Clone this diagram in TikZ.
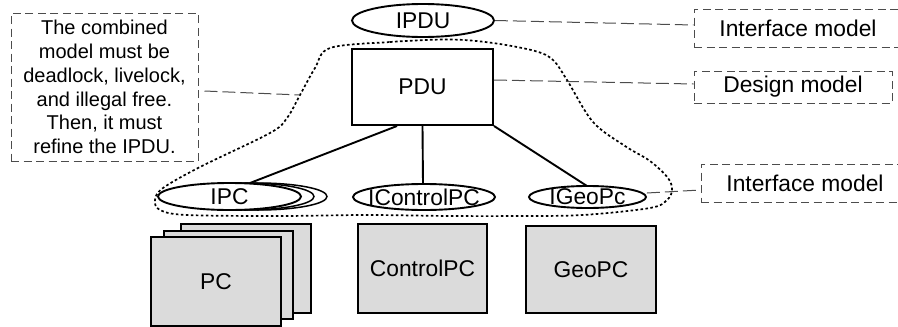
\documentclass[tikz,border=0pt]{standalone}
\usepackage{fontspec}
\setmainfont{Liberation Sans}
\usetikzlibrary{shapes.geometric}
\definecolor{boxgray}{gray}{0.86}
\definecolor{dashgray}{gray}{0.3}
\tikzset{
  modelfont/.style={font=\fontsize{22.8}{24}\selectfont},
  iface/.style={draw=black,line width=1.9pt,ellipse,inner sep=0pt,fill=white,label={[modelfont,inner sep=0pt]center:#1}},
  ifaceback/.style={draw=black,line width=1.5pt,ellipse,inner sep=0pt,fill=white},
  design/.style={draw=black,line width=2pt,fill=white,inner sep=0pt,modelfont},
  comp/.style={draw=black,line width=2pt,fill=boxgray,inner sep=0pt,modelfont},
  note/.style={draw=dashgray,dash pattern=on 8pt off 4.5pt,line width=1pt,inner sep=0pt,modelfont},
  bignote/.style={note,align=center,font=\fontsize{20}{23.7}\selectfont},
  link/.style={draw=black,line width=1.9pt},
  lead/.style={draw=dashgray,dash pattern=on 13pt off 5pt,line width=1pt},
  blob/.style={draw=black,line width=1.7pt,dash pattern=on 2.6pt off 2.4pt}
}
\begin{document}
\begin{tikzpicture}[x=1pt,y=-1pt]
\useasboundingbox (0,0) rectangle (898,327);
% notes
\node[bignote,minimum width=187pt,minimum height=148pt] (rule) at (104.5,87) {The combined\\model must be\\deadlock, livelock,\\and illegal free.\\Then, it must\\refine the IPDU.};
\node[note,minimum width=208pt,minimum height=38pt] (ni) at (798,28) {Interface model};
\node[note,minimum width=198pt,minimum height=32pt] (nd) at (793,87) {Design model};
\node[note,minimum width=208pt,minimum height=38pt] (ng) at (805,183) {Interface model};
% gray components
\node[comp,minimum width=130pt,minimum height=89pt] (pc3) at (246,268.5) {};
\node[comp,minimum width=129pt,minimum height=88pt] (pc2) at (228.5,275) {};
\node[comp,minimum width=130pt,minimum height=89pt] (pc) at (216,281.5) {PC};
\node[comp,minimum width=129pt,minimum height=89pt] (cpc) at (422.5,268.5) {ControlPC};
\node[comp,minimum width=130pt,minimum height=87pt] (gpc) at (591,269.5) {GeoPC};
% design box and interfaces
\node[design,minimum width=141pt,minimum height=76pt] (pdu) at (422.5,87) {PDU};
\node[iface=IPDU,minimum width=142pt,minimum height=33pt] (ipdu) at (423,20.5) {};
\node[ifaceback,minimum width=138pt,minimum height=27pt] (ipc3) at (258,196.5) {};
\node[ifaceback,minimum width=138pt,minimum height=27pt] (ipc2) at (245,196.5) {};
\coordinate (ipctop) at (250,183);
\coordinate (cpctop) at (423,184);
\coordinate (gpctop) at (587,186);
\draw[link] ([xshift=-25.5pt]pdu.south) -- (ipctop);
\draw[link] (pdu.south) -- (cpctop);
\draw[link] (pdu.south east) -- (gpctop);
\node[iface=IPC,minimum width=143pt,minimum height=27pt] (ipc) at (229.5,196.5) {};
\node[iface=IControlPC,minimum width=142pt,minimum height=26pt] (icpc) at (424,197) {};
\node[iface=IGeoPc,minimum width=117pt,minimum height=22pt] (igpc) at (587.5,197) {};
% dotted grouping outline
\draw[blob] plot[smooth cycle,tension=0.55] coordinates {
 (330,48) (390,42) (450,39.5) (493,43) (535,51) (553,60) (567,80) (593,122) (625,146) (650,161) (668,178)
 (672,190) (667,200) (650,208) (583,215) (520,216) (450,216) (367,215) (280,216) (187,215) (160,210) (155,200)
 (163,188) (200,167) (270,133) (287,118) (300,95) (315,68)};
% leaders
\coordinate (blobleft) at (300,95);
\draw[lead] (ipdu.east) -- ([yshift=3pt]ni.west);
\draw[lead] ([yshift=7pt]pdu.east) -- ([yshift=3pt]nd.west);
\draw[lead] ([yshift=4pt]igpc.east) -- ([yshift=-7pt]ng.west);
\draw[lead] ([xshift=6pt,yshift=-4pt]rule.east) -- (blobleft);
\end{tikzpicture}
\end{document}
